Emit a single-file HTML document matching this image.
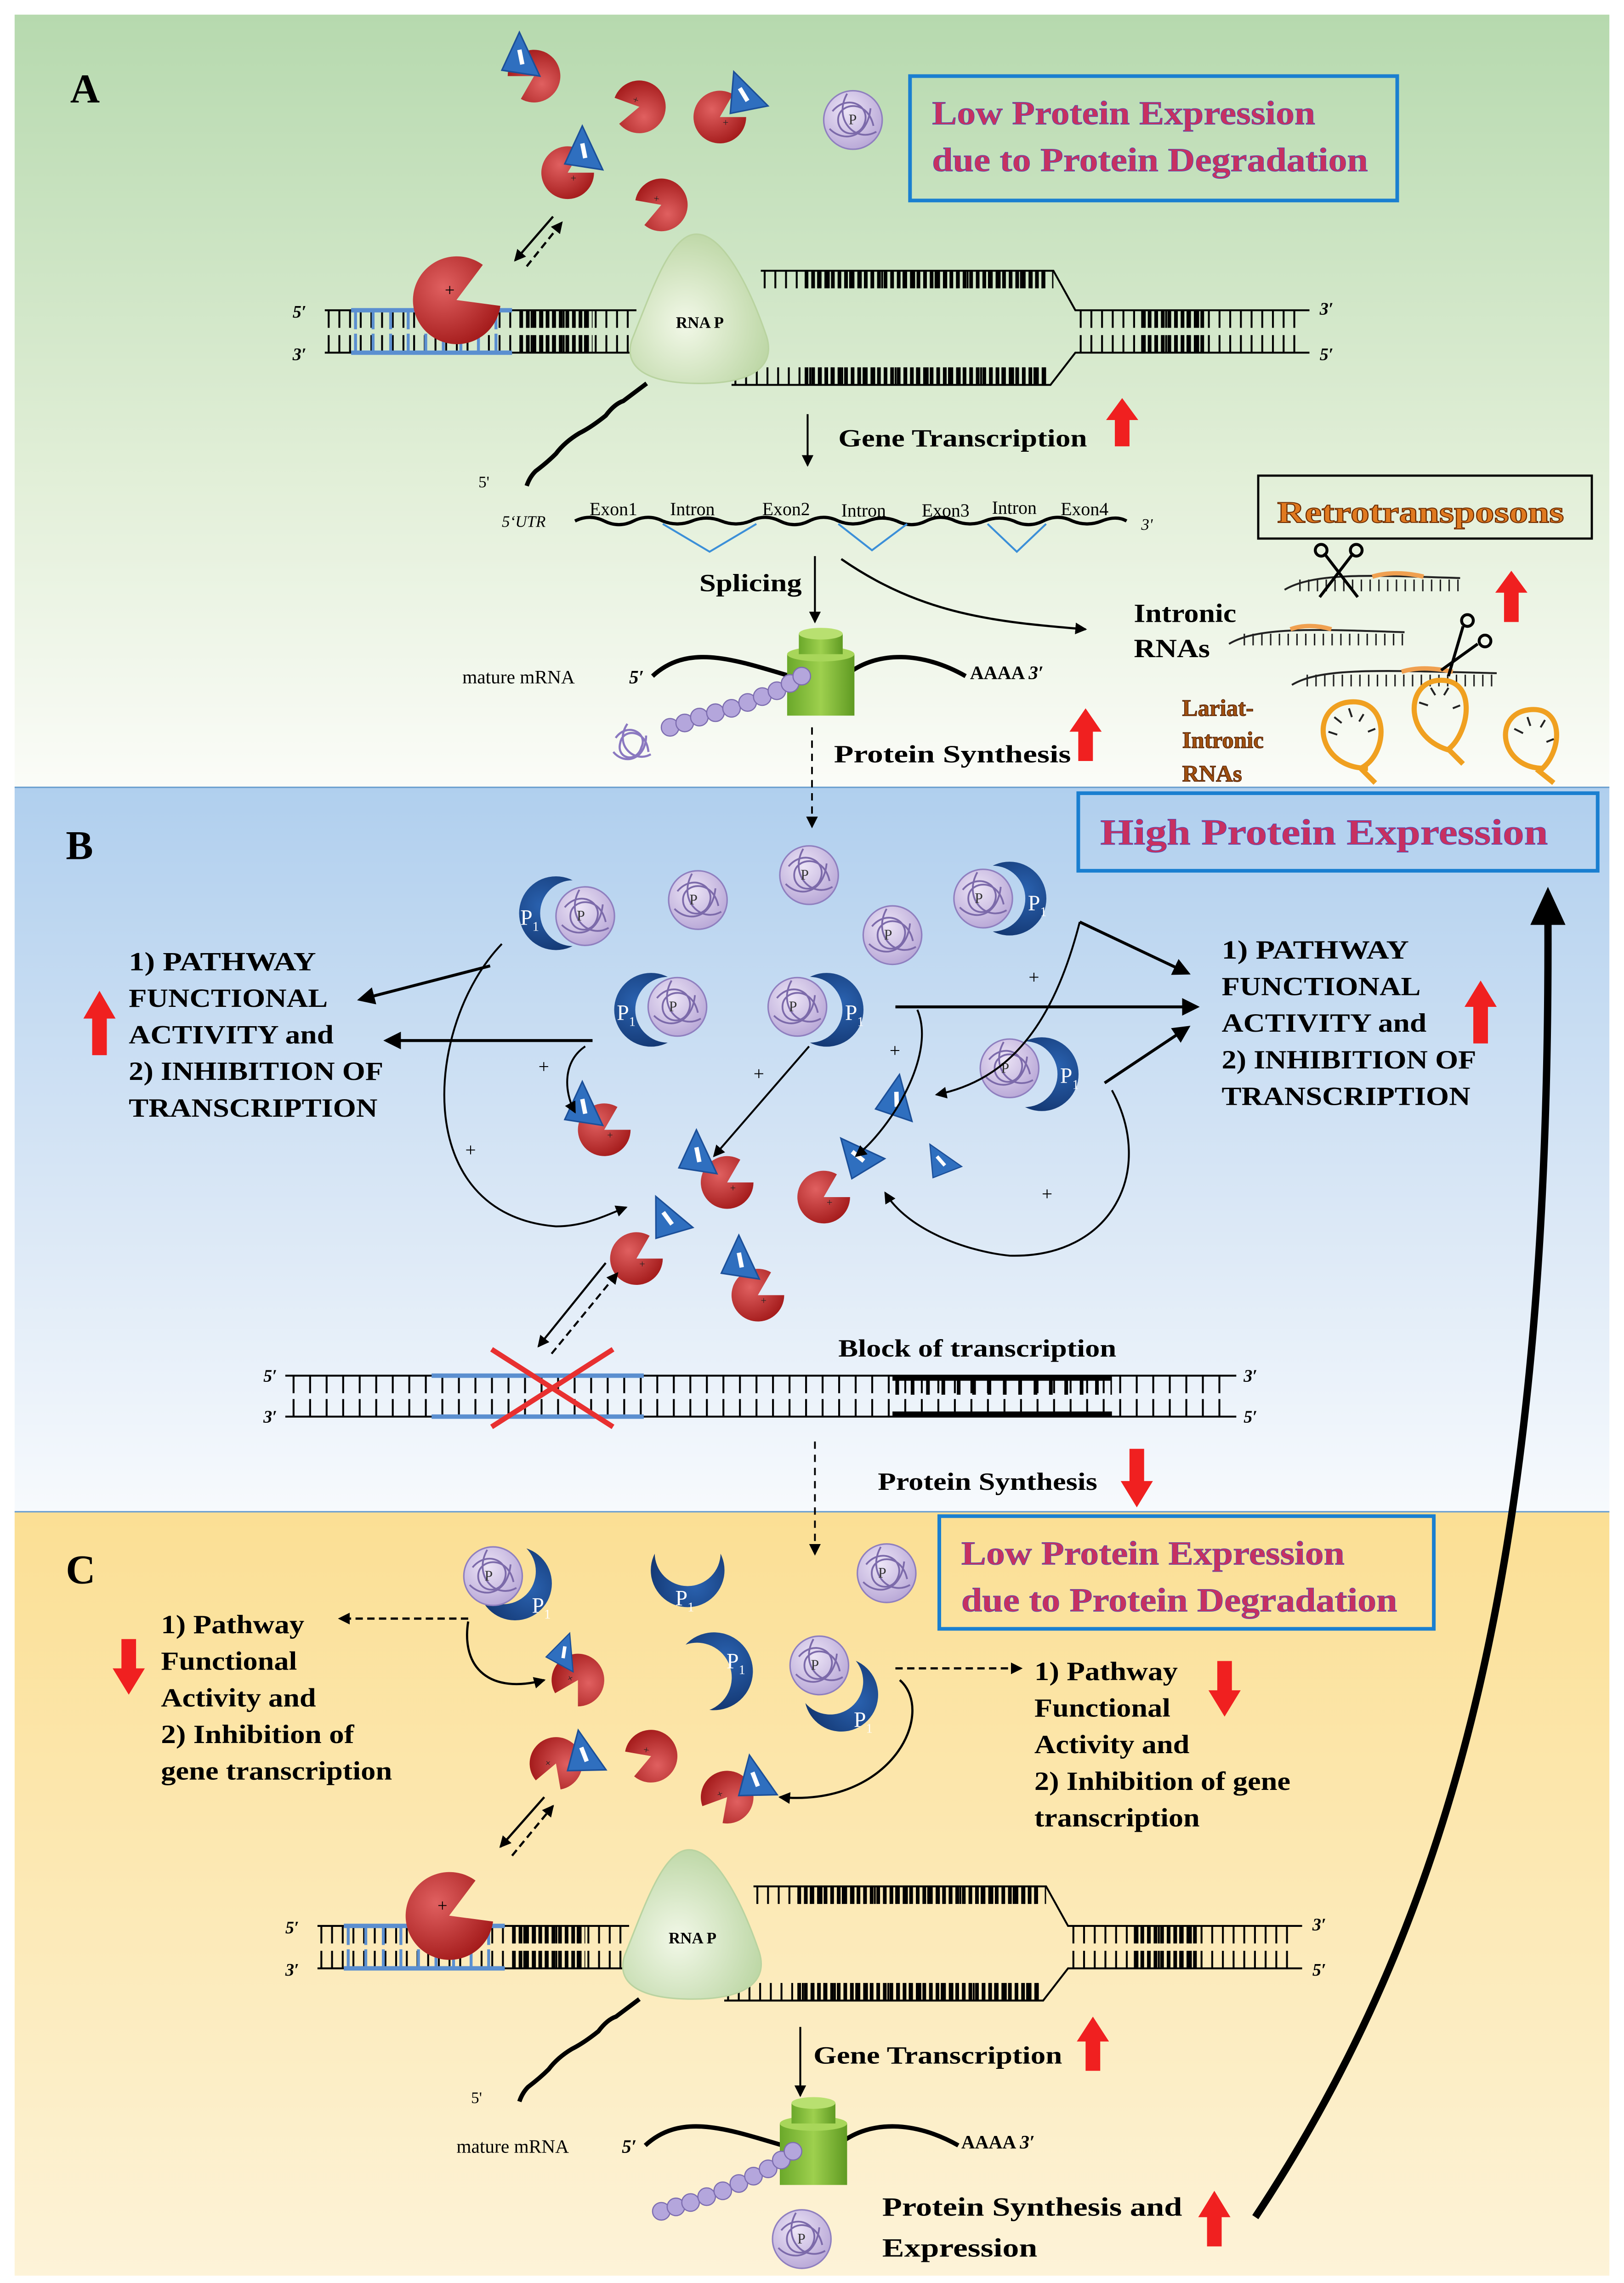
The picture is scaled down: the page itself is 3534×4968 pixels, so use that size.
<!DOCTYPE html>
<html><head><meta charset="utf-8"><style>
html,body{margin:0;padding:0;background:#fff}
svg{display:block}
text{font-family:"Liberation Serif",serif}
</style></head><body>
<svg width="3534" height="4968" viewBox="0 0 1110 1560" preserveAspectRatio="none" xmlns="http://www.w3.org/2000/svg">
<defs>
<linearGradient id="gA" x1="0" y1="0" x2="0" y2="1"><stop offset="0" stop-color="#b6d9ae"/><stop offset="0.6" stop-color="#e2efd8"/><stop offset="1" stop-color="#fbfcf8"/></linearGradient>
<linearGradient id="gB" x1="0" y1="0" x2="0" y2="1"><stop offset="0" stop-color="#b0cfee"/><stop offset="0.6" stop-color="#dbe8f6"/><stop offset="1" stop-color="#f7fafd"/></linearGradient>
<linearGradient id="gC" x1="0" y1="0" x2="0" y2="1"><stop offset="0" stop-color="#fbdf94"/><stop offset="0.6" stop-color="#fcebbc"/><stop offset="1" stop-color="#fdf3d8"/></linearGradient>
<radialGradient id="rR" cx="0.35" cy="0.35" r="0.7"><stop offset="0" stop-color="#e06060"/><stop offset="1" stop-color="#a51c1c"/></radialGradient>
<radialGradient id="rP" cx="0.4" cy="0.35" r="0.7"><stop offset="0" stop-color="#ece4f6"/><stop offset="1" stop-color="#b7a6d6"/></radialGradient>
<radialGradient id="rG" cx="0.4" cy="0.6" r="0.7"><stop offset="0" stop-color="#f2f8e8"/><stop offset="1" stop-color="#b7d39e"/></radialGradient>
<radialGradient id="rC" cx="0.7" cy="0.4" r="0.8"><stop offset="0" stop-color="#2a62b0"/><stop offset="1" stop-color="#0f2f66"/></radialGradient>
<linearGradient id="cyl" x1="0" x2="1"><stop offset="0" stop-color="#6aa82a"/><stop offset="0.5" stop-color="#9ed04e"/><stop offset="1" stop-color="#5f9a22"/></linearGradient>
<marker id="ah" markerWidth="8" markerHeight="8" refX="7" refY="4" orient="auto" markerUnits="userSpaceOnUse"><path d="M0,0 L8,4 L0,8 Z" fill="#000"/></marker>
<marker id="ahb" markerWidth="12" markerHeight="12" refX="10" refY="6" orient="auto" markerUnits="userSpaceOnUse"><path d="M0,0 L12,6 L0,12 Z" fill="#000"/></marker>
<mask id="cm" maskUnits="userSpaceOnUse" x="-40" y="-40" width="80" height="80"><rect x="-40" y="-40" width="80" height="80" fill="#fff"/><circle cx="-13" cy="0" r="25" fill="#000"/></mask>
<g id="ball"><circle r="20" fill="url(#rP)" stroke="#8f7fbf" stroke-width="1"/><path d="M-14,-6 C-4,-18 12,-10 8,2 C4,14 -12,10 -10,-2 C-8,-12 10,-14 14,4 M-16,6 C-6,16 10,12 12,-8 M-4,-18 C-14,0 2,16 16,8" fill="none" stroke="#7c6aaa" stroke-width="1.2"/><text x="-3" y="3" font-size="10" fill="#333">P</text></g>
<g id="cres"><circle r="28" fill="url(#rC)" mask="url(#cm)"/></g>
<g id="pac"><path d="M0,0 L18,0 A18,18 0 1 1 9,-15.6 Z" fill="url(#rR)"/><text x="2" y="6" font-size="7" fill="#222">+</text></g>
<g id="tri"><path d="M0,-16 L14,14 L-12,10 Z" fill="#2f6fbf" stroke="#1b4f99" stroke-width="1"/><path d="M0,-4 L2,6" stroke="#fff" stroke-width="3"/></g>
</defs>
<rect width="1110" height="1560" fill="#fff"/>
<rect x="10" y="10" width="1090" height="528" fill="url(#gA)"/>
<rect x="10" y="538" width="1090" height="495" fill="url(#gB)"/>
<rect x="10" y="1033" width="1090" height="522" fill="url(#gC)"/>
<line x1="10" y1="538" x2="1100" y2="538" stroke="#6b9fd0" stroke-width="1"/>
<line x1="10" y1="1033" x2="1100" y2="1033" stroke="#6b9fd0" stroke-width="1"/>

<!-- ===== PANEL A ===== -->
<text x="48" y="70" font-size="28" font-weight="bold">A</text>
<rect x="622" y="52" width="333" height="85" fill="none" stroke="#1a7fd0" stroke-width="2.5"/>
<text x="637" y="85" font-size="23" font-weight="bold" fill="#c83060" stroke="#4050c0" stroke-width="0.3" textLength="262" lengthAdjust="spacingAndGlyphs">Low Protein Expression</text>
<text x="637" y="117" font-size="23" font-weight="bold" fill="#c83060" stroke="#4050c0" stroke-width="0.3" textLength="298" lengthAdjust="spacingAndGlyphs">due to Protein Degradation</text>
<use href="#ball" x="583" y="82"/>
<use href="#pac" transform="translate(365,52) rotate(180)"/><use href="#tri" x="355" y="38"/>
<use href="#pac" transform="translate(437,73) rotate(200)"/>
<use href="#pac" x="492" y="80"/><use href="#tri" transform="translate(507,64) rotate(-20)"/>
<use href="#pac" x="388" y="118"/><use href="#tri" x="398" y="102"/>
<use href="#pac" transform="translate(452,140) rotate(190)"/>
<line x1="378" y1="148" x2="352" y2="178" stroke="#000" stroke-width="1.5" marker-end="url(#ah)"/>
<line x1="360" y1="182" x2="384" y2="152" stroke="#000" stroke-width="1.5" stroke-dasharray="5 3" marker-end="url(#ah)"/>

<g id="dnaA">
<line x1="222" y1="212" x2="435" y2="212" stroke="#000" stroke-width="1.3"/>
<line x1="224" y1="218" x2="435" y2="218" stroke="#000" stroke-width="12" stroke-dasharray="1.3 6"/>
<line x1="222" y1="241" x2="435" y2="241" stroke="#000" stroke-width="1.3"/>
<line x1="224" y1="235" x2="435" y2="235" stroke="#000" stroke-width="12" stroke-dasharray="1.3 6"/>
<line x1="240" y1="212" x2="350" y2="212" stroke="#5b8fd0" stroke-width="3"/>
<line x1="240" y1="241" x2="350" y2="241" stroke="#5b8fd0" stroke-width="3"/>
<line x1="242" y1="219" x2="350" y2="219" stroke="#5b8fd0" stroke-width="12" stroke-dasharray="2 10"/>
<line x1="242" y1="234" x2="350" y2="234" stroke="#5b8fd0" stroke-width="12" stroke-dasharray="2 10"/>
<line x1="355" y1="218" x2="405" y2="218" stroke="#000" stroke-width="12" stroke-dasharray="2.5 2"/>
<line x1="355" y1="235" x2="405" y2="235" stroke="#000" stroke-width="12" stroke-dasharray="2.5 2"/>
<path d="M520,185 L720,185 L735,212 L895,212" fill="none" stroke="#000" stroke-width="1.3"/>
<line x1="522" y1="191" x2="720" y2="191" stroke="#000" stroke-width="12" stroke-dasharray="1.3 6"/>
<line x1="550" y1="191" x2="715" y2="191" stroke="#000" stroke-width="12" stroke-dasharray="2.5 2"/>
<path d="M500,263 L718,263 L735,241 L895,241" fill="none" stroke="#000" stroke-width="1.3"/>
<line x1="502" y1="257" x2="718" y2="257" stroke="#000" stroke-width="12" stroke-dasharray="1.3 6"/>
<line x1="550" y1="257" x2="715" y2="257" stroke="#000" stroke-width="12" stroke-dasharray="2.5 2"/>
<line x1="738" y1="218" x2="890" y2="218" stroke="#000" stroke-width="12" stroke-dasharray="1.3 6"/>
<line x1="738" y1="235" x2="890" y2="235" stroke="#000" stroke-width="12" stroke-dasharray="1.3 6"/>
<line x1="780" y1="218" x2="825" y2="218" stroke="#000" stroke-width="12" stroke-dasharray="2.5 2"/>
<line x1="780" y1="235" x2="825" y2="235" stroke="#000" stroke-width="12" stroke-dasharray="2.5 2"/>
<text x="200" y="217" font-size="12" font-style="italic" font-weight="bold">5′</text>
<text x="200" y="246" font-size="12" font-style="italic" font-weight="bold">3′</text>
<text x="902" y="215" font-size="12" font-style="italic" font-weight="bold">3′</text>
<text x="902" y="246" font-size="12" font-style="italic" font-weight="bold">5′</text>
<g transform="translate(312,205)"><path d="M0,0 L30,4 A30,30 0 1 1 18,-24 Z" fill="url(#rR)"/><text x="-8" y="-3" font-size="12">+</text></g>
<path d="M476,160 C458,160 445,200 432,232 C426,250 440,262 478,262 C515,262 530,250 524,230 C512,195 494,160 476,160 Z" fill="url(#rG)" stroke="#b9d3a0"/>
<text x="462" y="224" font-size="11" font-weight="bold">RNA P</text>
<path d="M442,262 q-8,6 -16,12 q-6,2 -12,10 q-10,8 -18,12 q-10,6 -16,14 q-6,6 -14,12 q-4,4 -6,10" fill="none" stroke="#000" stroke-width="3"/>
</g>
<text x="327" y="333" font-size="11">5'</text>
<line x1="552" y1="283" x2="552" y2="318" stroke="#000" stroke-width="1.3" marker-end="url(#ah)"/>
<text x="573" y="305" font-size="17" font-weight="bold" textLength="170" lengthAdjust="spacingAndGlyphs">Gene Transcription</text>
<path d="M762,305 L762,287 L756,287 L767,272 L778,287 L772,287 L772,305 Z" fill="#f02020"/>

<text x="343" y="360" font-size="11" font-style="italic">5‘UTR</text>
<path d="M393,356 q10,-5 20,0 q10,5 20,0 q10,-5 20,0 q10,4 20,0 q10,-4 20,0 q10,4 20,0 q10,-5 20,0 q10,5 20,0 q10,-5 20,0 q10,4 20,0 q10,-4 20,0 q10,5 20,0 q10,-5 20,0 q10,4 20,0 q10,-4 20,0 q10,5 20,0 q10,-5 20,0 q10,4 20,0 q10,-4 17,0" fill="none" stroke="#000" stroke-width="2.2"/>
<path d="M453,358 L485,377 L517,358 M573,358 L596,376 L620,358 M675,358 L695,377 L715,358" fill="none" stroke="#3b8fd8" stroke-width="1.3"/>
<g font-family="Liberation Sans,sans-serif" font-size="12.5">
<text x="403" y="352">Exon1</text><text x="458" y="352">Intron</text><text x="521" y="352">Exon2</text><text x="575" y="353">Intron</text><text x="630" y="353">Exon3</text><text x="678" y="351">Intron</text><text x="725" y="352">Exon4</text></g>
<text x="780" y="362" font-size="11" font-style="italic">3'</text>
<text x="478" y="404" font-size="17" font-weight="bold" textLength="70" lengthAdjust="spacingAndGlyphs">Splicing</text>
<line x1="557" y1="380" x2="557" y2="425" stroke="#000" stroke-width="1.3" marker-end="url(#ah)"/>
<path d="M575,382 C630,420 680,425 742,430" fill="none" stroke="#000" stroke-width="1.5" marker-end="url(#ah)"/>
<rect x="860" y="325" width="228" height="43" fill="none" stroke="#000" stroke-width="1.5"/>
<text x="873" y="357" font-size="21" font-weight="bold" fill="#e07a20" stroke="#6b2a00" stroke-width="0.6" textLength="196" lengthAdjust="spacingAndGlyphs">Retrotransposons</text>
<text x="775" y="425" font-size="18" font-weight="bold" textLength="70" lengthAdjust="spacingAndGlyphs">Intronic</text>
<text x="775" y="449" font-size="18" font-weight="bold" textLength="52" lengthAdjust="spacingAndGlyphs">RNAs</text>
<g transform="translate(878,403)"><path d="M0,0 C20,-12 60,-10 120,-8" fill="none" stroke="#222" stroke-width="1.3"/><path d="M60,-9 C70,-12 82,-12 95,-9" fill="none" stroke="#f0a050" stroke-width="3"/><line x1="10" y1="-3" x2="120" y2="-3" stroke="#222" stroke-width="8" stroke-dasharray="1 5"/></g>
<g transform="translate(840,440)"><path d="M0,0 C20,-12 60,-10 120,-8" fill="none" stroke="#222" stroke-width="1.3"/><path d="M42,-10 C50,-13 60,-13 70,-10" fill="none" stroke="#f0a050" stroke-width="3"/><line x1="10" y1="-3" x2="120" y2="-3" stroke="#222" stroke-width="8" stroke-dasharray="1 5"/></g>
<g transform="translate(883,468)"><path d="M0,0 C20,-12 60,-10 140,-8" fill="none" stroke="#222" stroke-width="1.3"/><path d="M75,-9 C85,-12 95,-12 110,-9" fill="none" stroke="#f0a050" stroke-width="3"/><line x1="10" y1="-3" x2="140" y2="-3" stroke="#222" stroke-width="8" stroke-dasharray="1 5"/></g>
<g stroke="#000" stroke-width="2" fill="none"><path d="M905,378 L928,408 M925,378 L902,408"/><circle cx="903" cy="376" r="4"/><circle cx="927" cy="376" r="4"/></g>
<g stroke="#000" stroke-width="2" fill="none"><path d="M1000,428 L990,462 M1010,440 L985,458"/><circle cx="1003" cy="424" r="4"/><circle cx="1015" cy="438" r="4"/></g>
<path d="M1028,425 L1028,405 L1022,405 L1033,390 L1044,405 L1038,405 L1038,425 Z" fill="#f02020"/>
<g font-size="16" font-weight="bold" fill="#a05010" stroke="#4a1a00" stroke-width="0.4"><text x="808" y="489">Lariat-</text><text x="808" y="511">Intronic</text><text x="808" y="534">RNAs</text></g>
<g fill="none" stroke="#f0a020" stroke-width="3.5">
<path d="M935,525 C900,525 895,485 920,480 C950,475 950,515 930,525 L940,535"/>
<path d="M992,513 C960,505 960,468 982,465 C1010,462 1005,500 990,512 L1000,522"/>
<path d="M1055,525 C1025,525 1020,488 1045,485 C1070,482 1068,515 1052,527 L1062,535"/>
</g>
<g stroke="#222" stroke-width="1.3"><path d="M908,500 l6,2 M912,490 l5,4 M922,484 l2,6 M932,488 l-3,5 M940,498 l-5,2 M970,480 l6,2 M978,470 l3,5 M990,470 l-3,5 M998,482 l-5,2 M1035,498 l6,3 M1044,490 l2,6 M1056,492 l-3,5 M1062,505 l-5,2"/></g>

<text x="316" y="467" font-size="13">mature  mRNA</text>
<text x="430" y="467" font-size="13" font-weight="bold" font-style="italic">5′</text>
<path d="M446,462 C470,440 500,450 540,462 M580,460 C600,445 630,445 660,462" fill="none" stroke="#000" stroke-width="3"/>
<text x="663" y="464" font-size="13" font-weight="bold">AAAA  <tspan font-style="italic">3′</tspan></text>
<rect x="538" y="447" width="46" height="42" fill="url(#cyl)"/>
<ellipse cx="561" cy="447" rx="23" ry="5" fill="#a8d65a"/>
<rect x="546" y="433" width="30" height="14" fill="url(#cyl)"/>
<ellipse cx="561" cy="433" rx="15" ry="4" fill="#b8e070"/>
<g fill="#b4a6dc" stroke="#7d6db0" stroke-width="0.8">
<circle cx="458" cy="497" r="6"/><circle cx="468" cy="494" r="6"/><circle cx="478" cy="490" r="6"/><circle cx="489" cy="487" r="6"/><circle cx="500" cy="484" r="6"/><circle cx="511" cy="480" r="6"/><circle cx="521" cy="476" r="6"/><circle cx="531" cy="472" r="6"/><circle cx="540" cy="467" r="6"/><circle cx="548" cy="462" r="6"/></g>
<g transform="translate(432,509) scale(0.8)"><path d="M-14,-6 C-4,-20 14,-10 8,2 C4,16 -14,12 -10,-2 C-8,-14 12,-14 14,6 M-16,6 C-6,18 12,12 12,-8 M-4,-18 C-16,0 2,16 16,8" fill="none" stroke="#8a78c0" stroke-width="1.8"/></g>
<line x1="555" y1="497" x2="555" y2="565" stroke="#000" stroke-width="1.2" stroke-dasharray="5 4" marker-end="url(#ah)"/>
<text x="570" y="521" font-size="17" font-weight="bold" textLength="162" lengthAdjust="spacingAndGlyphs">Protein Synthesis</text>
<path d="M737,520 L737,500 L731,500 L742,484 L753,500 L747,500 L747,520 Z" fill="#f02020"/>

<!-- ===== PANEL B ===== -->
<text x="45" y="587" font-size="28" font-weight="bold">B</text>
<rect x="737" y="542" width="355" height="53" fill="none" stroke="#1a7fd0" stroke-width="2.5"/>
<text x="752" y="577" font-size="25" font-weight="bold" fill="#c83060" stroke="#4050c0" stroke-width="0.3" textLength="306" lengthAdjust="spacingAndGlyphs">High Protein Expression</text>
<g font-size="15" fill="#fff" text-anchor="middle">
<use href="#cres" transform="translate(380,624) scale(-0.9,0.9)"/><use href="#ball" x="400" y="626"/><text x="362" y="632">P<tspan font-size="9" dy="4">1</tspan></text>
<use href="#ball" x="477" y="615"/>
<use href="#ball" x="553" y="598"/>
<use href="#ball" x="610" y="639"/>
<use href="#ball" x="672" y="614"/><use href="#cres" transform="translate(690,614) scale(0.9)"/><text x="709" y="622">P<tspan font-size="9" dy="4">1</tspan></text>
<use href="#cres" transform="translate(445,690) scale(-0.9,0.9)"/><use href="#ball" x="463" y="688"/><text x="428" y="697">P<tspan font-size="9" dy="4">1</tspan></text>
<use href="#ball" x="545" y="688"/><use href="#cres" transform="translate(565,690) scale(0.9)"/><text x="584" y="697">P<tspan font-size="9" dy="4">1</tspan></text>
<use href="#ball" x="690" y="730"/><use href="#cres" transform="translate(712,734) scale(0.9)"/><text x="731" y="740">P<tspan font-size="9" dy="4">1</tspan></text>
</g>
<use href="#pac" x="413" y="772"/><use href="#tri" x="398" y="755"/>
<use href="#pac" transform="translate(497,808)"/><use href="#tri" transform="translate(476,788)"/>
<use href="#pac" transform="translate(563,818)"/><use href="#tri" transform="translate(585,790) rotate(-40)"/>
<use href="#tri" transform="translate(612,750) rotate(10)"/>
<use href="#tri" transform="translate(642,793) rotate(-30) scale(0.8)"/>
<use href="#pac" x="435" y="860"/><use href="#tri" transform="translate(455,832) rotate(-25)"/>
<use href="#pac" x="518" y="885"/><use href="#tri" x="505" y="860"/>
<g stroke="#000" stroke-width="2" fill="none">
<line x1="335" y1="660" x2="246" y2="683" marker-end="url(#ahb)"/>
<line x1="405" y1="711" x2="264" y2="711" marker-end="url(#ahb)"/>
<line x1="612" y1="688" x2="818" y2="688" marker-end="url(#ahb)"/>
<line x1="738" y1="630" x2="812" y2="665" marker-end="url(#ahb)"/>
<line x1="755" y1="740" x2="812" y2="702" marker-end="url(#ahb)"/>
</g>
<g stroke="#000" stroke-width="1.3" fill="none">
<path d="M343,645 C290,700 280,830 380,838 C400,838 415,830 428,825" marker-end="url(#ah)"/>
<path d="M400,715 C385,725 385,745 393,760" marker-end="url(#ah)"/>
<path d="M553,715 L488,790" marker-end="url(#ah)"/>
<path d="M627,690 C640,720 610,770 585,790" marker-end="url(#ah)"/>
<path d="M738,630 C720,700 690,738 640,748" marker-end="url(#ah)"/>
<path d="M760,745 C790,800 760,860 690,858 C660,855 620,840 605,815" marker-end="url(#ah)"/>
</g>
<g font-size="13"><text x="318" y="790">+</text><text x="368" y="733">+</text><text x="515" y="738">+</text><text x="608" y="722">+</text><text x="703" y="672">+</text><text x="712" y="820">+</text></g>
<g font-size="18" font-weight="bold">
<text x="88" y="663" textLength="128" lengthAdjust="spacingAndGlyphs">1) PATHWAY</text>
<text x="88" y="688" textLength="136" lengthAdjust="spacingAndGlyphs">FUNCTIONAL</text>
<text x="88" y="713" textLength="140" lengthAdjust="spacingAndGlyphs">ACTIVITY and</text>
<text x="88" y="738" textLength="174" lengthAdjust="spacingAndGlyphs">2) INHIBITION OF</text>
<text x="88" y="763" textLength="170" lengthAdjust="spacingAndGlyphs">TRANSCRIPTION</text>
<text x="835" y="655" textLength="128" lengthAdjust="spacingAndGlyphs">1) PATHWAY</text>
<text x="835" y="680" textLength="136" lengthAdjust="spacingAndGlyphs">FUNCTIONAL</text>
<text x="835" y="705" textLength="140" lengthAdjust="spacingAndGlyphs">ACTIVITY and</text>
<text x="835" y="730" textLength="174" lengthAdjust="spacingAndGlyphs">2) INHIBITION OF</text>
<text x="835" y="755" textLength="170" lengthAdjust="spacingAndGlyphs">TRANSCRIPTION</text>
</g>
<path d="M63,721 L63,696 L57,696 L68,677 L79,696 L73,696 L73,721 Z" fill="#f02020"/>
<path d="M1007,713 L1007,688 L1001,688 L1012,670 L1023,688 L1017,688 L1017,713 Z" fill="#f02020"/>
<path d="M858,1515 C1000,1300 1060,1050 1058,625" fill="none" stroke="#000" stroke-width="5"/>
<path d="M1046,632 L1058,606 L1070,632 Z" fill="#000"/>
<line x1="414" y1="863" x2="368" y2="920" stroke="#000" stroke-width="1.4" marker-end="url(#ah)"/>
<line x1="377" y1="925" x2="422" y2="870" stroke="#000" stroke-width="1.4" stroke-dasharray="5 3" marker-end="url(#ah)"/>
<line x1="195" y1="940" x2="845" y2="940" stroke="#000" stroke-width="1.3"/>
<line x1="200" y1="946" x2="840" y2="946" stroke="#000" stroke-width="12" stroke-dasharray="1.3 10"/>
<line x1="195" y1="968" x2="845" y2="968" stroke="#000" stroke-width="1.3"/>
<line x1="200" y1="962" x2="840" y2="962" stroke="#000" stroke-width="12" stroke-dasharray="1.3 10"/>
<line x1="295" y1="940" x2="440" y2="940" stroke="#5b8fd0" stroke-width="3"/>
<line x1="295" y1="968" x2="440" y2="968" stroke="#5b8fd0" stroke-width="3"/>
<line x1="610" y1="942" x2="760" y2="942" stroke="#000" stroke-width="3"/>
<line x1="610" y1="966" x2="760" y2="966" stroke="#000" stroke-width="3"/>
<line x1="612" y1="948" x2="760" y2="948" stroke="#000" stroke-width="10" stroke-dasharray="2.5 8"/>
<path d="M336,922 L419,975 M419,922 L336,975" stroke="#e83030" stroke-width="3.5"/>
<text x="180" y="944" font-size="12" font-style="italic" font-weight="bold">5′</text>
<text x="180" y="972" font-size="12" font-style="italic" font-weight="bold">3′</text>
<text x="850" y="944" font-size="12" font-style="italic" font-weight="bold">3′</text>
<text x="850" y="972" font-size="12" font-style="italic" font-weight="bold">5′</text>
<text x="573" y="927" font-size="17" font-weight="bold" textLength="190" lengthAdjust="spacingAndGlyphs">Block of transcription</text>
<line x1="557" y1="985" x2="557" y2="1062" stroke="#000" stroke-width="1.2" stroke-dasharray="5 4" marker-end="url(#ah)"/>
<text x="600" y="1018" font-size="17" font-weight="bold" textLength="150" lengthAdjust="spacingAndGlyphs">Protein Synthesis</text>
<path d="M772,990 L772,1012 L766,1012 L777,1030 L788,1012 L782,1012 L782,990 Z" fill="#f02020"/>

<!-- ===== PANEL C ===== -->
<text x="45" y="1082" font-size="28" font-weight="bold">C</text>
<rect x="642" y="1036" width="338" height="77" fill="none" stroke="#1a7fd0" stroke-width="2.5"/>
<text x="657" y="1069" font-size="23" font-weight="bold" fill="#c83060" stroke="#4050c0" stroke-width="0.3" textLength="262" lengthAdjust="spacingAndGlyphs">Low Protein Expression</text>
<text x="657" y="1101" font-size="23" font-weight="bold" fill="#c83060" stroke="#4050c0" stroke-width="0.3" textLength="298" lengthAdjust="spacingAndGlyphs">due to Protein Degradation</text>
<g font-size="15" fill="#fff" text-anchor="middle">
<use href="#cres" transform="translate(352,1082) rotate(45) scale(0.9)"/><use href="#ball" x="337" y="1077"/><text x="370" y="1102">P<tspan font-size="9" dy="4">1</tspan></text>
<use href="#cres" transform="translate(470,1073) rotate(90) scale(0.9)"/><text x="468" y="1097">P<tspan font-size="9" dy="4">1</tspan></text>
<use href="#cres" transform="translate(488,1142) rotate(-20) scale(0.95)"/><text x="503" y="1140">P<tspan font-size="9" dy="4">1</tspan></text>
<use href="#ball" x="606" y="1075"/>
<use href="#cres" transform="translate(575,1158) rotate(50) scale(0.9)"/><use href="#ball" x="560" y="1138"/><text x="590" y="1180">P<tspan font-size="9" dy="4">1</tspan></text>
</g>
<use href="#pac" transform="translate(395,1148) rotate(150)"/><use href="#tri" transform="translate(385,1128) rotate(20) scale(0.8)"/>
<use href="#pac" transform="translate(380,1205) rotate(140)"/><use href="#tri" transform="translate(398,1198) rotate(-10)"/>
<use href="#pac" transform="translate(445,1200) rotate(190)"/>
<use href="#pac" transform="translate(497,1228) rotate(160)"/><use href="#tri" transform="translate(515,1215) rotate(-10)"/>
<g stroke="#000" stroke-width="1.5" fill="none">
<line x1="320" y1="1106" x2="232" y2="1106" stroke-dasharray="5 3" marker-end="url(#ah)"/>
<line x1="612" y1="1140" x2="698" y2="1140" stroke-dasharray="5 3" marker-end="url(#ah)"/>
<path d="M320,1108 C315,1140 335,1158 372,1148" marker-end="url(#ah)"/>
<path d="M615,1148 C640,1170 610,1235 533,1228" marker-end="url(#ah)"/>
</g>
<g font-size="18" font-weight="bold">
<text x="110" y="1116" textLength="98" lengthAdjust="spacingAndGlyphs">1) Pathway</text>
<text x="110" y="1141" textLength="93" lengthAdjust="spacingAndGlyphs">Functional</text>
<text x="110" y="1166" textLength="106" lengthAdjust="spacingAndGlyphs">Activity and</text>
<text x="110" y="1191" textLength="132" lengthAdjust="spacingAndGlyphs">2) Inhibition of</text>
<text x="110" y="1216" textLength="158" lengthAdjust="spacingAndGlyphs">gene transcription</text>
<text x="707" y="1148" textLength="98" lengthAdjust="spacingAndGlyphs">1) Pathway</text>
<text x="707" y="1173" textLength="93" lengthAdjust="spacingAndGlyphs">Functional</text>
<text x="707" y="1198" textLength="106" lengthAdjust="spacingAndGlyphs">Activity and</text>
<text x="707" y="1223" textLength="175" lengthAdjust="spacingAndGlyphs">2) Inhibition of gene</text>
<text x="707" y="1248" textLength="113" lengthAdjust="spacingAndGlyphs">transcription</text>
</g>
<path d="M83,1120 L83,1140 L77,1140 L88,1158 L99,1140 L93,1140 L93,1120 Z" fill="#f02020"/>
<path d="M832,1135 L832,1155 L826,1155 L837,1173 L848,1155 L842,1155 L842,1135 Z" fill="#f02020"/>
<line x1="372" y1="1228" x2="342" y2="1262" stroke="#000" stroke-width="1.5" marker-end="url(#ah)"/>
<line x1="350" y1="1268" x2="378" y2="1234" stroke="#000" stroke-width="1.5" stroke-dasharray="5 3" marker-end="url(#ah)"/>
<use href="#dnaA" transform="translate(-5,1104)"/>
<text x="322" y="1437" font-size="11">5'</text>
<line x1="547" y1="1385" x2="547" y2="1432" stroke="#000" stroke-width="1.3" marker-end="url(#ah)"/>
<text x="556" y="1410" font-size="17" font-weight="bold" textLength="170" lengthAdjust="spacingAndGlyphs">Gene Transcription</text>
<path d="M742,1415 L742,1395 L736,1395 L747,1378 L758,1395 L752,1395 L752,1415 Z" fill="#f02020"/>
<text x="312" y="1471" font-size="13">mature  mRNA</text>
<text x="425" y="1471" font-size="13" font-weight="bold" font-style="italic">5′</text>
<path d="M441,1466 C465,1444 495,1454 535,1466 M575,1464 C595,1449 625,1449 655,1466" fill="none" stroke="#000" stroke-width="3"/>
<text x="657" y="1468" font-size="13" font-weight="bold">AAAA  <tspan font-style="italic">3′</tspan></text>
<rect x="533" y="1451" width="46" height="42" fill="url(#cyl)"/>
<ellipse cx="556" cy="1451" rx="23" ry="5" fill="#a8d65a"/>
<rect x="541" y="1437" width="30" height="14" fill="url(#cyl)"/>
<ellipse cx="556" cy="1437" rx="15" ry="4" fill="#b8e070"/>
<g fill="#b4a6dc" stroke="#7d6db0" stroke-width="0.8">
<circle cx="452" cy="1511" r="6"/><circle cx="462" cy="1508" r="6"/><circle cx="472" cy="1505" r="6"/><circle cx="483" cy="1501" r="6"/><circle cx="494" cy="1497" r="6"/><circle cx="505" cy="1492" r="6"/><circle cx="515" cy="1487" r="6"/><circle cx="525" cy="1482" r="6"/><circle cx="534" cy="1476" r="6"/><circle cx="542" cy="1470" r="6"/></g>
<use href="#ball" x="548" y="1530"/>
<text x="603" y="1514" font-size="18" font-weight="bold" textLength="205" lengthAdjust="spacingAndGlyphs">Protein Synthesis and</text>
<text x="603" y="1542" font-size="18" font-weight="bold" textLength="106" lengthAdjust="spacingAndGlyphs">Expression</text>
<path d="M825,1535 L825,1515 L819,1515 L830,1497 L841,1515 L835,1515 L835,1535 Z" fill="#f02020"/>
</svg>
</body></html>
